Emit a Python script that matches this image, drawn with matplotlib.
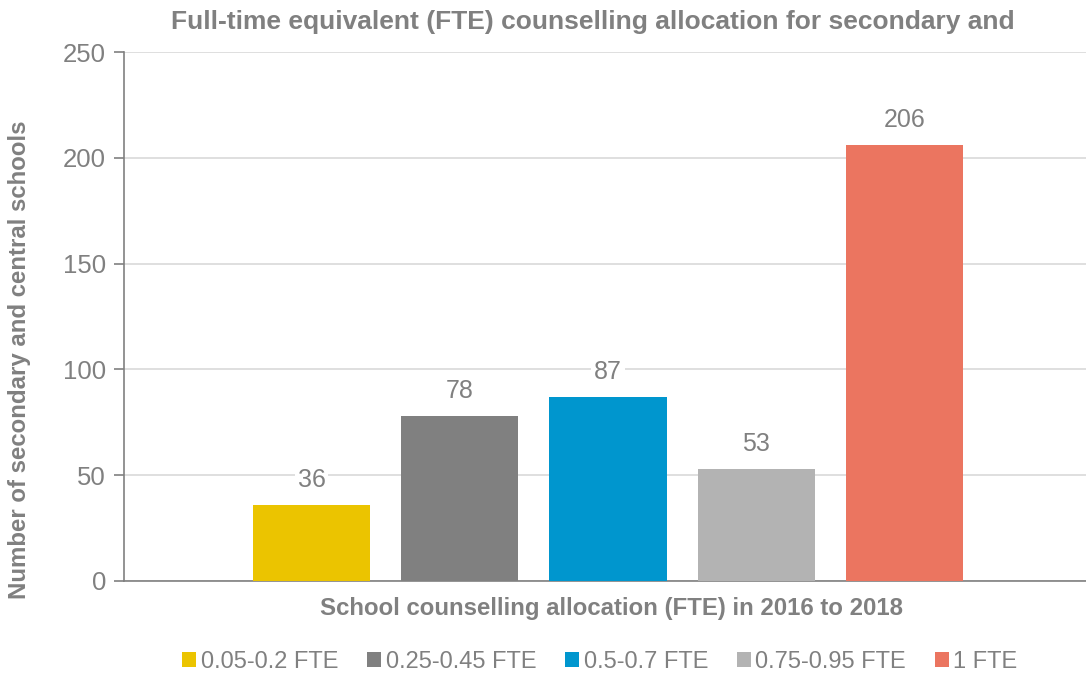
import matplotlib
matplotlib.use("Agg")
import matplotlib.pyplot as plt
from matplotlib.patches import Patch

categories = ["0.05-0.2 FTE", "0.25-0.45 FTE", "0.5-0.7 FTE", "0.75-0.95 FTE", "1 FTE"]
values = [36, 78, 87, 53, 206]
colors = ["#EBC400", "#808080", "#0096CE", "#B3B3B3", "#EB7560"]
yticks = [0, 50, 100, 150, 200, 250]

plt.rcParams['font.family'] = ['Liberation Sans', 'DejaVu Sans']
txt = "#808080"

W, H = 1086, 673
fig = plt.figure(figsize=(W/100, H/100), dpi=100)
ax = fig.add_axes([124/W, (H-581)/H, (W-124)/W, (581-52)/H])

x = list(range(len(values)))
bars = ax.bar(x, values, width=0.79, color=colors, zorder=3)
for xi, v in zip(x, values):
    ax.text(xi, v + 6, str(v), ha='center', va='bottom', fontsize=18, color=txt, zorder=4,
            bbox=dict(facecolor='white', edgecolor='none', pad=2))

ax.set_xlim(-1.265, 5.224)
ax.set_ylim(0, 250)
ax.set_yticks(yticks)
ax.set_xticks([])
ax.grid(axis='y', color='#D9D9D9', linewidth=1.2, zorder=0)
for s in ['top', 'right']:
    ax.spines[s].set_visible(False)
ax.spines['left'].set_color('#808080')
ax.spines['bottom'].set_color('#808080')
ax.spines['left'].set_linewidth(1.2)
ax.spines['bottom'].set_linewidth(1.2)
ax.tick_params(axis='y', direction='out', length=7, width=1.2, color='#808080',
               labelsize=18.5, labelcolor=txt, pad=6)

fig.text(593/W, 1 - 22/H, "Full-time equivalent (FTE) counselling allocation for secondary and",
         ha='center', va='center', fontsize=19, fontweight='bold', color=txt)
fig.text(611/W, 1 - 609/H, "School counselling allocation (FTE) in 2016 to 2018",
         ha='center', va='center', fontsize=17.3, fontweight='bold', color=txt)
fig.text(20/W, 1 - 360/H, "Number of secondary and central schools", rotation=90,
         ha='center', va='center', fontsize=17.3, fontweight='bold', color=txt)

handles = [Patch(facecolor=c, edgecolor='none') for c in colors]
fig.legend(handles, categories, loc='center', bbox_to_anchor=(600/W, 1 - 662/H), ncol=5,
           frameon=False, fontsize=17, labelcolor=txt, handlelength=0.6, handleheight=0.6,
           handletextpad=0.2, columnspacing=1.2)

fig.savefig("out.png", dpi=100)
